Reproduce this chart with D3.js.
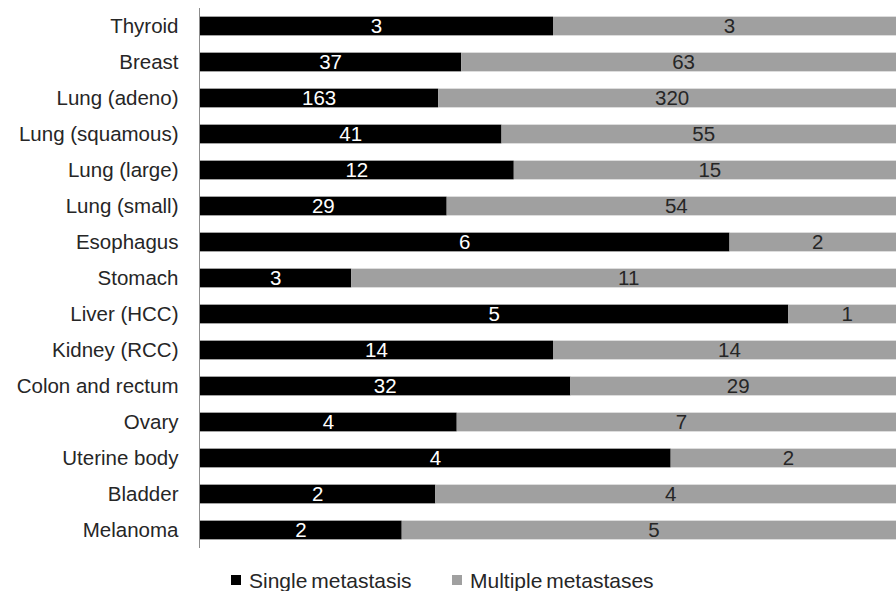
<!DOCTYPE html>
<html>
<head>
<meta charset="utf-8">
<script src="https://cdn.jsdelivr.net/npm/d3@7"></script>
<style>
  html, body { margin: 0; padding: 0; background: #fff; overflow: hidden; }
  svg { display: block; font-family: Arial, "Liberation Sans", sans-serif; }
</style>
</head>
<body>
<svg id="chart" width="896" height="591"></svg>
<script>
// Primary tumour sites and number of patients with single vs multiple metastases
const categories = ["Thyroid", "Breast", "Lung (adeno)", "Lung (squamous)", "Lung (large)",
  "Lung (small)", "Esophagus", "Stomach", "Liver (HCC)", "Kidney (RCC)",
  "Colon and rectum", "Ovary", "Uterine body", "Bladder", "Melanoma"];
const singleMetastasis = [3, 37, 163, 41, 12, 29, 6, 3, 5, 14, 32, 4, 4, 2, 2];
const multipleMetastases = [3, 63, 320, 55, 15, 54, 2, 11, 1, 14, 29, 7, 2, 4, 5];
const seriesNames = ["Single metastasis", "Multiple metastases"];

const colors = ["#000000", "#a0a0a0"];
const textColors = ["#ffffff", "#262626"];
const fontSize = 20.5;

const svg = d3.select("#chart");
const margin = { left: 200, right: -10, top: 8, bottom: 43 };
const width = 896, height = 591;

const rows = categories.map((c, i) => ({
  category: c,
  single: singleMetastasis[i],
  multiple: multipleMetastases[i]
}));

// 100% stacked: each row normalised to its total
const stack = d3.stack()
  .keys(["single", "multiple"])
  .offset(d3.stackOffsetExpand);
const layers = stack(rows);

const x = d3.scaleLinear().domain([0, 1]).range([margin.left, width - margin.right]);
const y = d3.scaleBand().domain(categories)
  .range([margin.top, height - margin.bottom])
  .paddingInner(0.48).paddingOuter(0.24);

const g = svg.append("g");

layers.forEach((layer, li) => {
  const lg = g.append("g");
  lg.selectAll("rect").data(layer).join("rect")
    .attr("x", d => x(d[0]))
    .attr("y", d => y(d.data.category))
    .attr("width", d => x(d[1]) - x(d[0]))
    .attr("height", y.bandwidth())
    .attr("fill", colors[li]);
  lg.selectAll("text").data(layer).join("text")
    .attr("x", d => (x(d[0]) + x(d[1])) / 2)
    .attr("y", d => y(d.data.category) + y.bandwidth() / 2)
    .attr("dy", "0.36em")
    .attr("text-anchor", "middle")
    .attr("font-size", fontSize)
    .attr("fill", textColors[li])
    .text(d => d.data[layer.key]);
});

// Category axis on the left
const yAxis = d3.axisLeft(y).tickSize(0).tickPadding(21);
const ya = svg.append("g")
  .attr("transform", `translate(${margin.left - 0.5},0)`)
  .call(yAxis);
ya.select(".domain").attr("stroke", "#8c8c8c").attr("stroke-width", 1)
  .attr("d", `M0,${margin.top}V${height - margin.bottom}`);
ya.selectAll("text").attr("font-size", fontSize).attr("fill", "#262626")
  .attr("font-family", "Arial, 'Liberation Sans', sans-serif");

// Legend
const legend = svg.append("g").attr("transform", "translate(0,580)");
const legendX = [231, 452];
seriesNames.forEach((name, i) => {
  legend.append("rect")
    .attr("x", legendX[i]).attr("y", -5)
    .attr("width", 10).attr("height", 10)
    .attr("fill", colors[i]);
  legend.append("text")
    .attr("x", legendX[i] + 18).attr("y", 0)
    .attr("dy", "0.36em")
    .attr("font-size", 21)
    .attr("word-spacing", -2)
    .attr("fill", "#262626")
    .text(name);
});
</script>
</body>
</html>
